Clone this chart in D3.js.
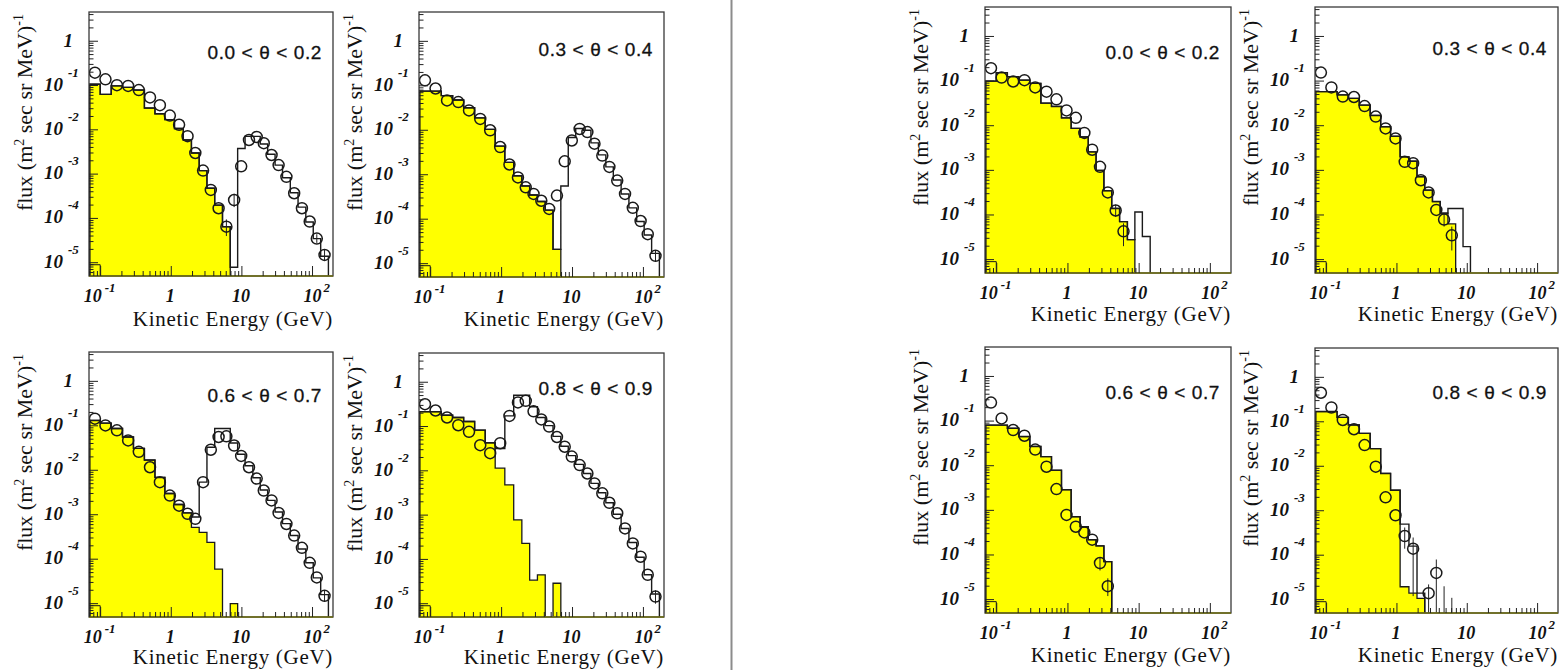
<!DOCTYPE html>
<html><head><meta charset="utf-8">
<script src="https://cdn.jsdelivr.net/npm/d3@7"></script>
<style>body{margin:0;background:#fff}svg{display:block}</style>
</head><body>
<svg id="c" width="1561" height="670"></svg>
<script>
// ---------------- DATA ----------------
// bin centres (kinetic energy, GeV) shared by all panels
const binEnergy = [0.083,0.117,0.170,0.245,0.347,0.50,0.69,0.955,1.29,1.70,2.19,2.82,3.63,4.68,6.03,7.76,9.77,12.6,16.2,20.4,26.3,33.1,42.7,55.0,70.8,91.2,115,148];

const panelLabels = ["0.0 < θ < 0.2","0.3 < θ < 0.4","0.6 < θ < 0.7","0.8 < θ < 0.9",
                     "0.0 < θ < 0.2","0.3 < θ < 0.4","0.6 < θ < 0.7","0.8 < θ < 0.9"];
const xTickValues = [0.1,1,10,100];
const xTickBase = ["10","1","10","10"];
const xTickExp  = ["-1","","","2"];
const yTickExps = [0,-1,-2,-3,-4,-5];
const xTitle = "Kinetic Energy (GeV)";

// data points (open circles)
const data1 = [1.95e-1,1.38e-1,1.02e-1,9.8e-2,7.9e-2,5.4e-2,3.6e-2,2.1e-2,1.3e-2,7.2e-3,3.0e-3,1.2e-3,4.4e-4,1.7e-4,6.5e-5,2.6e-4,1.5e-3,5.9e-3,6.9e-3,5.0e-3,2.7e-3,1.6e-3,8.7e-4,3.7e-4,1.7e-4,8.5e-5,3.5e-5,1.5e-5];
const data2 = [1.33e-1,8.7e-2,4.7e-2,4.3e-2,2.8e-2,1.8e-2,1.0e-2,4.2e-3,1.7e-3,8.7e-4,5.2e-4,3.7e-4,2.6e-4,1.7e-4,3.4e-4,2.0e-3,5.9e-3,1.07e-2,9.1e-3,5.0e-3,2.7e-3,1.5e-3,7.4e-4,3.7e-4,1.8e-4,9.1e-5,4.6e-5,1.5e-5];
const data3 = [1.45e-1,1.02e-1,7.9e-2,4.7e-2,2.6e-2,1.17e-2,5.4e-3,2.7e-3,1.6e-3,1.05e-3,8.1e-4,5.4e-3,2.9e-2,5.6e-2,5.8e-2,3.6e-2,2.1e-2,1.17e-2,6.5e-3,3.5e-3,2.1e-3,1.1e-3,6.2e-4,3.4e-4,1.8e-4,8.3e-5,3.9e-5,1.5e-5];
const data4 = [3.2e-1,2.3e-1,1.6e-1,1.07e-1,7.6e-2,3.8e-2,2.5e-2,4.2e-2,1.74e-1,3.5e-1,3.8e-1,2.2e-1,1.45e-1,1.0e-1,5.8e-2,3.5e-2,2.1e-2,1.35e-2,8.7e-3,5.2e-3,3.1e-3,1.9e-3,1.1e-3,5.0e-4,2.3e-4,1.15e-4,4.5e-5,1.45e-5];
const data5 = [1.95e-1,1.2e-1,9.8e-2,1.05e-1,7.2e-2,5.8e-2,3.9e-2,2.2e-2,1.5e-2,6.9e-3,2.9e-3,1.2e-3,3.2e-4,1.26e-4,4.3e-5];
const data6 = [1.55e-1,7.2e-2,4.5e-2,4.4e-2,2.75e-2,1.6e-2,8.7e-3,5.2e-3,1.55e-3,1.45e-3,6.0e-4,3.2e-4,1.3e-4,7.9e-5,3.5e-5];
const data7 = [2.6e-1,1.15e-1,6.3e-2,4.7e-2,2.3e-2,9.5e-3,3.0e-3,7.9e-4,4.3e-4,3.2e-4,2.2e-4,6.6e-5,2.0e-5];
const data8 = [4.5e-1,2.1e-1,1.1e-1,6.8e-2,3.0e-2,9.8e-3,2.0e-3,7.9e-4,2.7e-4,1.4e-4,null,1.4e-5,4.0e-5];

// yellow (filled) simulated component
const yellow1 = [1.07e-1,6.3e-2,9.8e-2,9.1e-2,7.9e-2,3.1e-2,2.3e-2,1.7e-2,1.07e-2,5.9e-3,3.0e-3,1.2e-3,4.8e-4,2.0e-4,6.5e-5];
const yellow2 = [7.6e-2,7.6e-2,6.0e-2,4.8e-2,3.2e-2,1.9e-2,1.05e-2,4.4e-3,1.9e-3,9.5e-4,5.6e-4,3.5e-4,2.5e-4,1.6e-4,2.1e-5];
const yellow3 = [1.32e-1,1.15e-1,8.7e-2,5.6e-2,3.1e-2,1.7e-2,6.9e-3,3.0e-3,1.7e-3,1.1e-3,5.2e-4,4.0e-4,2.4e-4,6.0e-5,null,1.0e-5];
const yellow4 = [2.16e-1,2.16e-1,1.8e-1,1.6e-1,1.3e-1,8.3e-2,4.3e-2,1.15e-2,4.8e-3,7.8e-4,2.3e-4,3.4e-5,4.5e-5,null,2.9e-5];
const yellow5 = [1.0e-1,1.55e-1,1.26e-1,1.05e-1,8.9e-2,3.2e-2,2.7e-2,1.5e-2,8.7e-3,5.6e-3,2.6e-3,1.0e-3,3.5e-4,1.4e-4,7.1e-5,2.8e-5];
const yellow6 = [5.8e-2,5.8e-2,4.9e-2,4.1e-2,2.9e-2,1.7e-2,9.5e-3,5.8e-3,2.0e-3,1.6e-3,7.2e-4,3.6e-4,2.0e-4,1.1e-4,6.3e-5];
const yellow7 = [8.1e-2,8.1e-2,6.9e-2,4.5e-2,2.7e-2,1.6e-2,7.9e-3,2.9e-3,7.2e-4,4.3e-4,2.2e-4,1.6e-4,7.1e-5];
const yellow8 = [1.7e-1,1.7e-1,1.26e-1,8.5e-2,5.5e-2,2.5e-2,6.9e-3,2.9e-3,1.95e-5,1.4e-5,1.07e-5];

// total simulation (open step line)
const total1 = [1.07e-1,6.3e-2,9.8e-2,9.1e-2,7.9e-2,3.1e-2,2.3e-2,1.7e-2,1.07e-2,5.9e-3,3.0e-3,1.2e-3,4.8e-4,2.0e-4,6.5e-5,7.9e-6,3.8e-3,7.1e-3,7.1e-3,4.8e-3,2.8e-3,1.6e-3,8.3e-4,3.8e-4,1.8e-4,8.3e-5,3.5e-5,1.4e-5];
const total2 = [7.6e-2,7.6e-2,6.0e-2,4.8e-2,3.2e-2,1.9e-2,1.05e-2,4.4e-3,1.9e-3,9.5e-4,5.6e-4,3.5e-4,2.5e-4,1.6e-4,2.1e-5,5.6e-4,6.9e-3,1.1e-2,1.0e-2,5.2e-3,2.8e-3,1.5e-3,7.6e-4,3.7e-4,1.8e-4,8.9e-5,4.4e-5,1.7e-5];
const total3 = [1.32e-1,1.15e-1,8.7e-2,5.6e-2,3.1e-2,1.7e-2,6.9e-3,3.0e-3,1.7e-3,1.1e-3,8.9e-4,5.4e-3,3.3e-2,8.7e-2,8.7e-2,4.1e-2,2.3e-2,1.26e-2,6.8e-3,3.6e-3,2.1e-3,1.15e-3,6.3e-4,3.4e-4,1.7e-4,8.3e-5,3.8e-5,1.6e-5];
const total4 = [2.16e-1,2.16e-1,1.8e-1,1.6e-1,1.3e-1,8.3e-2,4.3e-2,3.2e-2,1.74e-1,5.1e-1,5.1e-1,2.8e-1,1.6e-1,1.05e-1,6.0e-2,3.6e-2,2.2e-2,1.4e-2,8.7e-3,5.2e-3,3.2e-3,1.9e-3,1.05e-3,5.0e-4,2.4e-4,1.12e-4,4.5e-5,1.66e-5];
const total5 = [1.0e-1,1.55e-1,1.26e-1,1.05e-1,8.9e-2,3.2e-2,2.7e-2,1.5e-2,8.7e-3,5.6e-3,2.6e-3,1.0e-3,3.5e-4,1.4e-4,7.1e-5,2.8e-5,1.17e-4,3.3e-5];
const total6 = [5.8e-2,5.8e-2,4.9e-2,4.1e-2,2.9e-2,1.7e-2,9.5e-3,5.8e-3,2.0e-3,1.6e-3,7.2e-4,3.6e-4,2.0e-4,1.1e-4,1.4e-4,1.4e-4,1.95e-5];
const total7 = [8.1e-2,8.1e-2,6.9e-2,4.5e-2,2.7e-2,1.6e-2,7.9e-3,2.9e-3,7.2e-4,4.3e-4,2.2e-4,1.6e-4,7.1e-5];
const total8 = [1.7e-1,1.7e-1,1.26e-1,8.5e-2,5.5e-2,2.5e-2,6.9e-3,2.9e-3,5.0e-4,1.6e-4,1.4e-5];

// small third component in the first bin
const otherComp = [9e-6];

// visible error bars: [bin, low, high]
const err1 = [[14,4.0e-5,9.5e-5],[15,1.8e-4,3.6e-4],[26,2.8e-5,4.4e-5],[27,1.1e-5,2.0e-5]];
const err2 = [[27,1.1e-5,2.0e-5]];
const err3 = [[27,1.1e-5,2.0e-5]];
const err4 = [[27,1.0e-5,2.0e-5]];
const err5 = [[13,9e-5,1.7e-4],[14,2.0e-5,6.5e-5]];
const err6 = [[13,5.5e-5,1.1e-4],[14,1.6e-5,5.5e-5]];
const err7 = [[11,4.5e-5,9e-5],[12,1.2e-5,3.0e-5]];
const err8 = [[8,1.4e-4,4.2e-4],[9,1.2e-5,2.5e-4],[11,4e-6,2.2e-5],[12,4e-6,8.0e-5],[13,4e-6,2.0e-5],[14,4e-6,1.1e-5]];

// ---------------- LAYOUT ----------------
const layout = [
  {x0:89,  x1:333,  y0:12,  y1:276, lab:40, tit:50},
  {x0:419, x1:664,  y0:12,  y1:277, lab:37, tit:49},
  {x0:89,  x1:333,  y0:352, y1:617, lab:43, tit:47},
  {x0:419, x1:664,  y0:353, y1:617, lab:35, tit:47},
  {x0:985, x1:1231, y0:7,   y1:273, lab:45, tit:48},
  {x0:1315,x1:1558, y0:7,   y1:273, lab:41, tit:48},
  {x0:985, x1:1231, y0:347, y1:613, lab:45, tit:49},
  {x0:1315,x1:1558, y0:348, y1:613, lab:44, tit:49}
];
const panels = [
  {data:data1,yellow:yellow1,total:total1,err:err1},
  {data:data2,yellow:yellow2,total:total2,err:err2},
  {data:data3,yellow:yellow3,total:total3,err:err3},
  {data:data4,yellow:yellow4,total:total4,err:err4},
  {data:data5,yellow:yellow5,total:total5,err:err5},
  {data:data6,yellow:yellow6,total:total6,err:err6},
  {data:data7,yellow:yellow7,total:total7,err:err7},
  {data:data8,yellow:yellow8,total:total8,err:err8}
];
const xDomain = [Math.pow(10,-1.165), Math.pow(10,2.29)];
const yDomain = [Math.pow(10,-5.3), Math.pow(10,0.66)];

const n = binEnergy.length;
const edges = [];
for (let k=1;k<n;k++) edges[k] = Math.sqrt(binEnergy[k-1]*binEnergy[k]);
edges[0] = binEnergy[0]*binEnergy[0]/edges[1];
edges[n] = binEnergy[n-1]*binEnergy[n-1]/edges[n-1];

const svg = d3.select("#c");
svg.append("rect").attr("width",1561).attr("height",670).attr("fill","#fff");
// separator
svg.append("line").attr("x1",731.5).attr("x2",731.5).attr("y1",0).attr("y2",670)
  .attr("stroke","#8c8c8c").attr("stroke-width",2);

const serif = "'Liberation Serif','Times New Roman',serif";
const sans = "'Liberation Sans',Arial,sans-serif";
const tickFont = sel => sel.attr("font-family",serif).attr("font-weight","bold")
  .attr("font-style","italic").attr("fill","#111");

panels.forEach((p,i)=>{
  const L = layout[i];
  const x = d3.scaleLog().domain(xDomain).range([L.x0,L.x1]);
  const y = d3.scaleLog().domain(yDomain).range([L.y1,L.y0]).clamp(true);
  const g = svg.append("g");
  const cid = "clip"+i;
  svg.append("clipPath").attr("id",cid).append("rect")
    .attr("x",L.x0).attr("y",L.y0).attr("width",L.x1-L.x0).attr("height",L.y1-L.y0);
  const pg = g.append("g").attr("clip-path",`url(#${cid})`);
  const base = L.y1+2;
  const stepPath = arr => {
    let d = `M${x(edges[0])},${base}`;
    for (let k=0;k<n;k++){
      const v = arr[k];
      const yy = (v==null) ? base : y(v);
      d += `L${x(edges[k])},${yy}L${x(edges[k+1])},${yy}`;
    }
    d += `L${x(edges[n])},${base}`;
    return d;
  };
  pg.append("path").attr("d", stepPath(p.yellow)+"Z").attr("fill","#ffff00").attr("stroke","none");
  pg.append("path").attr("d", stepPath(p.yellow)).attr("fill","none").attr("stroke","#1a1a1a").attr("stroke-width",1.3);
  pg.append("path").attr("d", stepPath(otherComp)).attr("fill","none").attr("stroke","#1a1a1a").attr("stroke-width",1);
  pg.append("path").attr("d", stepPath(p.total)).attr("fill","none").attr("stroke","#1a1a1a").attr("stroke-width",1.4);
  p.err.forEach(e=>{
    pg.append("line").attr("x1",x(binEnergy[e[0]])).attr("x2",x(binEnergy[e[0]]))
      .attr("y1",y(e[1])).attr("y2",y(e[2])).attr("stroke","#222").attr("stroke-width",1);
  });
  p.data.forEach((v,k)=>{
    if (v==null) return;
    pg.append("circle").attr("cx",x(binEnergy[k])).attr("cy",y(v)).attr("r",5.5)
      .attr("fill","none").attr("stroke","#1a1a1a").attr("stroke-width",1.5);
  });
  // frame
  g.append("rect").attr("x",L.x0).attr("y",L.y0).attr("width",L.x1-L.x0).attr("height",L.y1-L.y0)
    .attr("fill","none").attr("stroke","#3a3a3a").attr("stroke-width",1.3);
  g.append("line").attr("x1",L.x0).attr("x2",L.x1).attr("y1",L.y1).attr("y2",L.y1)
    .attr("stroke","#6e6e10").attr("stroke-width",1.6);
  // y ticks
  for (let d=-6; d<=0; d++){
    for (let m=1;m<=9;m++){
      const v = m*Math.pow(10,d);
      if (v<yDomain[0]||v>yDomain[1]) continue;
      const len = m===1?9:4.5;
      g.append("line").attr("x1",L.x0).attr("x2",L.x0+len).attr("y1",y(v)).attr("y2",y(v))
        .attr("stroke","#222").attr("stroke-width",1);
    }
  }
  // x ticks
  for (let d=-2; d<=2; d++){
    for (let m=1;m<=9;m++){
      const v = m*Math.pow(10,d);
      if (v<xDomain[0]||v>xDomain[1]) continue;
      const len = m===1?10:5;
      g.append("line").attr("x1",x(v)).attr("x2",x(v)).attr("y1",L.y1).attr("y2",L.y1-len)
        .attr("stroke","#222").attr("stroke-width",1);
    }
  }
  // y tick labels
  yTickExps.forEach(e=>{
    const ty = y(Math.pow(10,e));
    if (e===0){
      g.append("text").attr("x",L.x0-16).attr("y",ty+6).attr("text-anchor","end")
        .call(tickFont).attr("font-size",19).text("1");
    } else {
      g.append("text").attr("x",L.x0-26).attr("y",ty+5).attr("text-anchor","end")
        .call(tickFont).attr("font-size",19).text("10");
      g.append("text").attr("x",L.x0-21).attr("y",ty-9).attr("text-anchor","start")
        .call(tickFont).attr("font-size",13).text(String(e));
    }
  });
  // x tick labels
  xTickValues.forEach((v,j)=>{
    const tx = x(v);
    const neg = xTickExp[j].startsWith("-");
    const bx = neg ? tx-8 : (xTickExp[j] ? tx : tx-1);
    g.append("text").attr("x",bx).attr("y",L.y1+26).attr("text-anchor","middle")
      .call(tickFont).attr("font-size",18).text(xTickBase[j]);
    if (xTickExp[j]){
      g.append("text").attr("x",neg?tx+4:tx+11).attr("y",L.y1+16).attr("text-anchor","start")
        .call(tickFont).attr("font-size",13).text(xTickExp[j]);
    }
  });
  // x title
  g.append("text").attr("x",L.x1).attr("y",L.y1+L.tit).attr("text-anchor","end")
    .attr("font-family",serif).attr("font-size",21).attr("letter-spacing",0.7)
    .attr("fill","#111").text(xTitle);
  // y title
  const yt = g.append("text").attr("transform",`translate(${L.x0-57},${L.y0+2}) rotate(-90)`)
    .attr("text-anchor","end").attr("font-family",serif).attr("font-size",22).attr("fill","#111");
  yt.append("tspan").text("flux (m");
  yt.append("tspan").attr("dy",-8).attr("font-size",14).text("2");
  yt.append("tspan").attr("dy",8).text(" sec sr MeV)");
  yt.append("tspan").attr("dy",-9).attr("font-size",14).text("-1");
  // panel label
  g.append("text").attr("x",L.x1-11).attr("y",L.y0+L.lab+6.5).attr("text-anchor","end")
    .attr("font-family",sans).attr("font-size",19).attr("letter-spacing",0.6)
    .attr("fill","#111").attr("stroke","#111").attr("stroke-width",0.3)
    .text(panelLabels[i]);
});
</script>
</body></html>
